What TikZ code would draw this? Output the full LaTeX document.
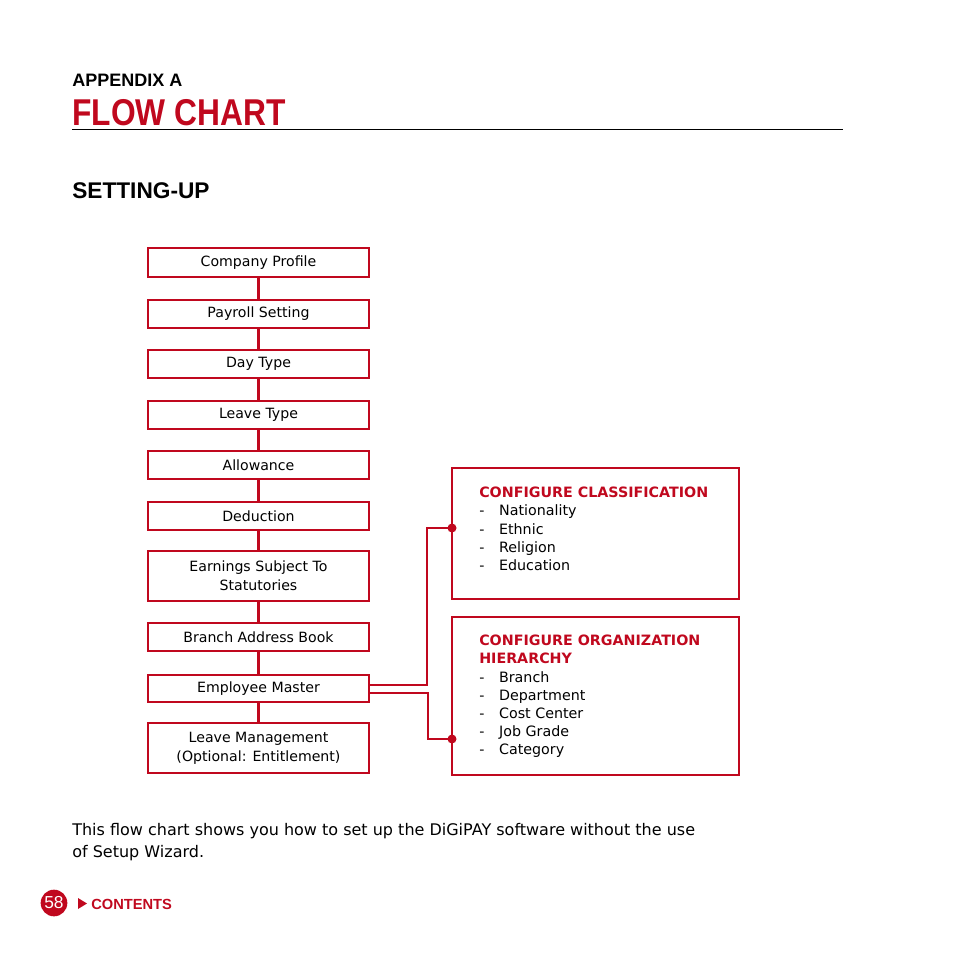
\documentclass[tikz,border=0pt]{standalone}
\usepackage{fontspec}
\setmainfont{DejaVu Sans}
\newfontfamily\headf{Liberation Sans}
\definecolor{dred}{HTML}{C0081E}
\begin{document}
\begin{tikzpicture}[x=0.75pt,y=-0.75pt,
 lbox/.style={draw=dred,line width=1.3pt,minimum width=221*0.75pt,align=center,font=\fontsize{10.6}{14}\selectfont,inner sep=0pt},
 conn/.style={draw=dred,line width=2.2pt},
 wire/.style={draw=dred,line width=1.1pt},
 rbox/.style={draw=dred,line width=1pt}]
\useasboundingbox (0,0) rectangle (954,954);
\node[anchor=west,inner sep=0pt,font=\headf\bfseries\fontsize{13.5}{15}\selectfont] (app) at (72,80) {APPENDIX A};
\node[anchor=west,font=\headf\bfseries\fontsize{28}{30}\selectfont,text=dred,inner sep=0pt] (fc) at (72,113) {\scalebox{0.85}[1]{FLOW CHART}};
\draw[line width=0.6pt] (72,129) -- (843,129);
\node[anchor=west,inner sep=0pt,font=\headf\bfseries\fontsize{17}{20}\selectfont] (su) at (72,191) {SETTING-UP};
\foreach \n/\t/\b/\txt in {cp/248/277/Company Profile, ps/300/328/Payroll Setting, dt/350/378/Day Type, lt/401/429/Leave Type, al/451/479/Allowance, de/502/530/Deduction, es/551/601/{Earnings Subject To\\Statutories}, ba/623/651/Branch Address Book, em/675/702/Employee Master, lm/723/773/{Leave Management\\(Optional: Entitlement)}}
 \node[lbox,minimum height={(\b-\t)*0.75pt}] (\n) at (258.5,{(\t+\b)/2}) {\txt};
\foreach \a/\b in {cp/ps,ps/dt,dt/lt,lt/al,al/de,de/es,es/ba,ba/em,em/lm}
 \draw[conn] (\a.south) -- (\b.north);
\draw[rbox] (452,468) rectangle (739,599);
\draw[rbox] (452,617) rectangle (739,775);
\node[anchor=north west,align=left,inner sep=0pt,font=\fontsize{10.7}{13.6}\selectfont] (r1) at (479,487)
 {\textcolor{dred}{\bfseries CONFIGURE CLASSIFICATION}\\-\hspace{11pt}Nationality\\-\hspace{11pt}Ethnic\\-\hspace{11pt}Religion\\-\hspace{11pt}Education};
\node[anchor=north west,align=left,inner sep=0pt,font=\fontsize{10.7}{13.6}\selectfont] (r2) at (479,635)
 {\textcolor{dred}{\bfseries CONFIGURE ORGANIZATION}\\\textcolor{dred}{\bfseries HIERARCHY}\\-\hspace{11pt}Branch\\-\hspace{11pt}Department\\-\hspace{11pt}Cost Center\\-\hspace{11pt}Job Grade\\-\hspace{11pt}Category};
\coordinate (d1) at (452,528);
\coordinate (d2) at (452,739);
\draw[wire] (369.6,685) -- (427,685) -- (427,528) -- (d1);
\draw[wire] (369.6,693) -- (428,693) -- (428,739) -- (d2);
\fill[dred] (d1) circle (4.5);
\fill[dred] (d2) circle (4.5);
\node[anchor=north west,align=left,inner sep=0pt,font=\fontsize{12}{16.5}\selectfont] (desc) at (72,823)
 {This flow chart shows you how to set up the DiGiPAY software without the use\\of Setup Wizard.};
\node[circle,fill=dred,text=white,inner sep=0pt,minimum size=20pt,font=\headf\fontsize{13}{13}\selectfont] (pg) at (54,903) {58};
\fill[dred] (78,898) -- (87,903.5) -- (78,909) -- cycle;
\node[anchor=west,text=dred,font=\headf\bfseries\fontsize{11}{13}\selectfont,inner sep=0pt] (ct) at (91,904) {CONTENTS};
\end{tikzpicture}
\end{document}
